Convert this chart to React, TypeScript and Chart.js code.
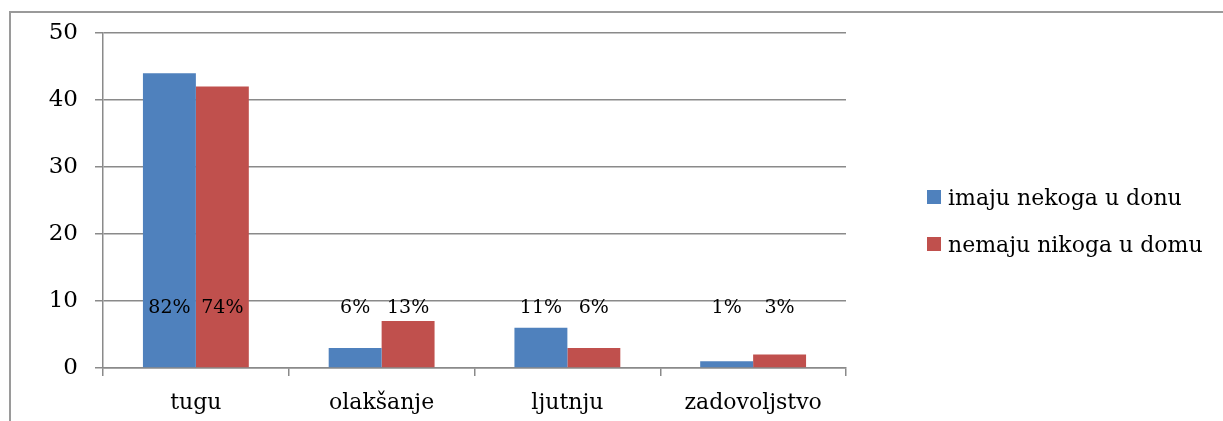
import React, { useEffect, useRef } from "react";
import { Chart, registerables } from "chart.js";

Chart.register(...registerables);

const categories = ["tugu", "olakšanje", "ljutnju", "zadovoljstvo"];
const seriesLabels = ["imaju nekoga u donu", "nemaju nikoga u domu"];
const imajuValues = [44, 3, 6, 1];
const nemajuValues = [42, 7, 3, 2];
const imajuPct = ["82%", "6%", "11%", "1%"];
const nemajuPct = ["74%", "13%", "6%", "3%"];
const pctLabels = [imajuPct, nemajuPct];
const pctLabelValue = 8.2;
const yTicks = { min: 0, max: 50, step: 10 };

const BLUE = "#4F81BD";
const RED = "#C0504D";
const GRID = "#8a8a8a";
const FONT = '"DejaVu Serif", serif';

const pctPlugin = {
  id: "pctLabels",
  afterDatasetsDraw(chart: any) {
    const ctx = chart.ctx;
    const y = chart.scales.y.getPixelForValue(pctLabelValue);
    ctx.save();
    ctx.font = `19px ${FONT}`;
    ctx.fillStyle = "#000";
    ctx.textAlign = "center";
    ctx.textBaseline = "alphabetic";
    chart.data.datasets.forEach((ds: any, di: number) => {
      const meta = chart.getDatasetMeta(di);
      meta.data.forEach((bar: any, i: number) => {
        ctx.fillText(pctLabels[di][i], bar.x, y);
      });
    });
    ctx.restore();
  },
};

const legendPlugin = {
  id: "customLegend",
  afterDraw(chart: any) {
    const ctx = chart.ctx;
    const area = chart.chartArea;
    const x0 = area.right + 81;
    const y0 = 190;
    ctx.save();
    ctx.font = `22px ${FONT}`;
    ctx.textAlign = "left";
    ctx.textBaseline = "alphabetic";
    chart.data.datasets.forEach((ds: any, i: number) => {
      const y = y0 + i * 47;
      ctx.fillStyle = ds.backgroundColor;
      ctx.fillRect(x0, y, 14, 14);
      ctx.fillStyle = "#000";
      ctx.fillText(ds.label, x0 + 21, y + 15);
    });
    ctx.restore();
  },
};

const framePlugin = {
  id: "frame",
  beforeDraw(chart: any) {
    const ctx = chart.ctx;
    ctx.save();
    ctx.fillStyle = "#9a9a9a";
    ctx.fillRect(9, 11, 2, chart.height - 11);
    ctx.fillRect(9, 11, chart.width - 9, 2);
    ctx.restore();
  },
};

export default function App() {
  const canvasRef = useRef<HTMLCanvasElement | null>(null);

  useEffect(() => {
    if (!canvasRef.current) return;
    const chart = new Chart(canvasRef.current, {
      type: "bar",
      data: {
        labels: categories,
        datasets: [
          {
            label: seriesLabels[0],
            data: imajuValues,
            backgroundColor: BLUE,
            borderWidth: 0,
          },
          {
            label: seriesLabels[1],
            data: nemajuValues,
            backgroundColor: RED,
            borderWidth: 0,
          },
        ],
      },
      options: {
        responsive: false,
        animation: false,
        devicePixelRatio: 1,
        layout: { padding: { top: 33, right: 377, bottom: 0, left: 0 } },
        plugins: {
          legend: { display: false },
          tooltip: { enabled: false },
        },
        datasets: {
          bar: { categoryPercentage: 0.57, barPercentage: 1 },
        },
        scales: {
          x: {
            grid: {
              offset: true,
              drawOnChartArea: false,
              drawTicks: true,
              tickLength: 8,
              color: GRID,
              lineWidth: 1.5,
            },
            border: { display: true, color: GRID, width: 1.5 },
            ticks: {
              color: "#000",
              font: { family: FONT, size: 22 },
              padding: 14,
              maxRotation: 0,
            },
            afterFit(scale: any) {
              scale.height = 53;
            },
          },
          y: {
            min: yTicks.min,
            max: yTicks.max,
            grid: {
              color: GRID,
              lineWidth: 1.5,
              tickLength: 8,
              drawTicks: true,
            },
            border: { display: true, color: GRID, width: 1.5 },
            ticks: {
              stepSize: yTicks.step,
              color: "#000",
              font: { family: FONT, size: 23 },
              padding: 17,
            },
            afterFit(scale: any) {
              scale.width = 103;
            },
          },
        },
      },
      plugins: [framePlugin, pctPlugin, legendPlugin],
    });
    return () => chart.destroy();
  }, []);

  return (
    <div>
      <canvas
        ref={canvasRef}
        width={1223}
        height={421}
        style={{ position: "absolute", left: 0, top: 0, width: 1223, height: 421 }}
      />
    </div>
  );
}
